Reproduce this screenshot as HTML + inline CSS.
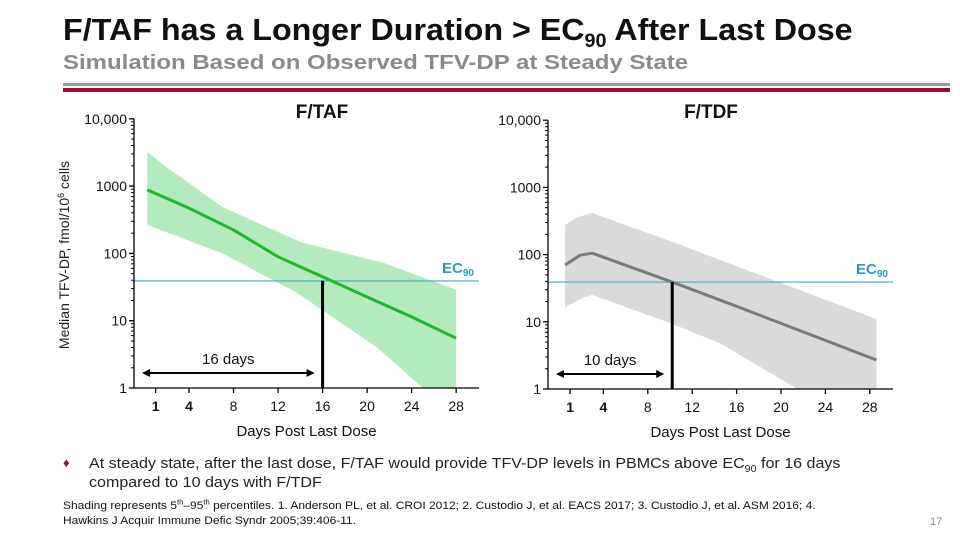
<!DOCTYPE html>
<html><head><meta charset="utf-8">
<style>
body{margin:0;width:960px;height:540px;overflow:hidden;background:#fff;font-family:"Liberation Sans",Arial,sans-serif;position:relative}
.t{position:absolute;white-space:nowrap;transform-origin:0 0}
sub,sup{line-height:0}
</style></head><body>
<div class="t" style="left:63px;top:12px;font-size:31px;font-weight:bold;color:#111;transform:scaleX(1.04)">F/TAF has a Longer Duration &gt; EC<sub style="font-size:19px">90</sub> After Last Dose</div>
<div class="t" style="left:63px;top:52px;font-size:20px;font-weight:bold;color:#8a8a8a;transform:scaleX(1.2)">Simulation Based on Observed TFV-DP at Steady State</div>
<div style="position:absolute;left:63px;top:83px;width:887px;height:3px;background:#9a9a9a"></div>
<div style="position:absolute;left:63px;top:88px;width:887px;height:4px;background:#9b0d2b"></div>
<svg id="chart" width="960" height="540" style="position:absolute;left:0;top:0" font-family="Liberation Sans, Arial, sans-serif"></svg>
<div class="t" style="left:63px;top:455px;font-size:13px;color:#9b0d2b">♦</div>
<div class="t" style="left:89px;top:454px;font-size:15px;color:#222;line-height:19px;transform:scaleX(1.07)">At steady state, after the last dose, F/TAF would provide TFV-DP levels in PBMCs above EC<sub style="font-size:10px">90</sub> for 16 days<br>compared to 10 days with F/TDF</div>
<div class="t" style="left:63px;top:499px;font-size:11px;color:#111;line-height:15px;transform:scaleX(1.09)">Shading represents 5<sup style="font-size:7px">th</sup>–95<sup style="font-size:7px">th</sup> percentiles. 1. Anderson PL, et al. CROI 2012; 2. Custodio J, et al. EACS 2017; 3. Custodio J, et al. ASM 2016; 4.<br>Hawkins J Acquir Immune Defic Syndr 2005;39:406-11.</div>
<div class="t" style="left:930px;top:516px;font-size:11px;color:#888">17</div>
<script>
const xTicks=[1,4,8,12,16,20,24,28];
const yTicks=[1,10,100,1000,10000];
const yTickLabels=["1","10","100","1000","10,000"];
const ec90=39;
const tafDays=[0.25,4,8,12,14,16,20,24,28];
const tafMedian=[880,470,223,89,63,45,22.5,11.4,5.5];
const tafUpperDays=[0.25,2,7,14,21.5,28];
const tafUpper=[3200,1900,490,148,72,29];
const tafLowerDays=[0.25,7,13.7,20.9,25,28];
const tafLower=[265,100,26,4,1,0.5];
const tafCross=16;
const tdfDays=[0.55,1.9,3,10.2,16,28.6];
const tdfMedian=[70,98,105,39,17,2.7];
const tdfUpperDays=[0.55,1.6,3,10.2,28.6];
const tdfUpper=[275,360,415,155,11];
const tdfLowerDays=[0.55,2.2,3,10,14.5,21.5,28.6];
const tdfLower=[16.6,23,25,9.6,4.8,1,0.3];
const tdfCross=10.2;

const svg=document.getElementById('chart');
const NS='http://www.w3.org/2000/svg';
function mk(tag,attrs,parent){const e=document.createElementNS(NS,tag);for(const k in attrs)e.setAttribute(k,attrs[k]);(parent||svg).appendChild(e);return e;}

function panel(o){
  const g=mk('g',{});
  
  
  const X=d=>o.x0+d*o.dx;
  const Y=v=>o.y1-Math.log10(Math.max(v,1e-3))*o.dec;
  const clip='clip-'+o.name;
  const cp=mk('clipPath',{id:clip},g);
  mk('rect',{x:o.ax,y:o.y1-4*o.dec,width:o.axEnd-o.ax,height:4*o.dec},cp);
  let pts=o.upD.map((d,i)=>X(d)+','+Y(o.up[i]));
  for(let i=o.loD.length-1;i>=0;i--)pts.push(X(o.loD[i])+','+Y(o.lo[i]));
  const band=mk('polygon',{points:pts.join(' '),fill:o.band,'clip-path':'url(#'+clip+')'},g);
  
  
  const ec=mk('line',{x1:o.ax,x2:o.axEnd,y1:Y(ec90),y2:Y(ec90),stroke:'#4aa8c8','stroke-width':1.2},g);
  
  
  const et=mk('text',{x:o.axEnd-5,y:Y(ec90)-8,'text-anchor':'end','font-size':15,'font-weight':'bold',fill:'#2a9cc0'},g);
  
  
  et.innerHTML='EC<tspan font-size="10" dy="3">90</tspan>';
  const md=mk('polyline',{points:o.mD.map((d,i)=>X(d)+','+Y(o.m[i])).join(' '),fill:'none',stroke:o.line,'stroke-width':3,'stroke-linejoin':'round'},g);
  
  
  const vl=mk('line',{x1:X(o.cross),x2:X(o.cross),y1:Y(ec90),y2:o.y1,stroke:'#000','stroke-width':3},g);
  
  
  const ay=o.y1-15, ax1=o.ax+8, ax2=X(o.cross)-8;
  const ar=mk('g',{},g);
  
  
  mk('line',{x1:ax1+4,x2:ax2-4,y1:ay,y2:ay,stroke:'#000','stroke-width':2},ar);
  mk('polygon',{points:`${ax1},${ay} ${ax1+8},${ay-4} ${ax1+8},${ay+4}`,fill:'#000'},ar);
  mk('polygon',{points:`${ax2},${ay} ${ax2-8},${ay-4} ${ax2-8},${ay+4}`,fill:'#000'},ar);
  const dt=mk('text',{x:(ax1+ax2)/2,y:ay-9,'text-anchor':'middle','font-size':15,fill:'#111'},g);
  
  
  dt.textContent=o.durLabel;
  const axes=mk('g',{stroke:'#000','stroke-width':1.3},g);
  
  
  mk('line',{x1:o.ax,x2:o.ax,y1:o.y1-4*o.dec,y2:o.y1},axes);
  mk('line',{x1:o.ax,x2:o.axEnd,y1:o.y1,y2:o.y1},axes);
  yTicks.forEach((v,i)=>{
    mk('line',{x1:o.ax-5,x2:o.ax,y1:Y(v),y2:Y(v)},axes);
    if(i<yTicks.length-1)for(let k=2;k<10;k++)mk('line',{x1:o.ax-3,x2:o.ax,y1:Y(v*k),y2:Y(v*k),'stroke-width':1},axes);
    const t=mk('text',{x:o.ax-7,y:Y(v)+5,'text-anchor':'end','font-size':14,fill:'#111',stroke:'none'},g);
    
    
    t.textContent=yTickLabels[i];
  });
  xTicks.forEach(d=>{
    mk('line',{x1:X(d),x2:X(d),y1:o.y1,y2:o.y1+5},axes);
    const t=mk('text',{x:X(d),y:o.y1+23,'text-anchor':'middle','font-size':14,fill:'#111','font-weight':(d<=4?'bold':'normal')},g);
    
    
    t.textContent=d;
  });
  const xt=mk('text',{x:(o.ax+o.axEnd)/2,y:o.y1+48,'text-anchor':'middle','font-size':15,fill:'#111'},g);
  
  
  xt.textContent='Days Post Last Dose';
  const pt=mk('text',{x:o.titleX,y:118,'text-anchor':'middle','font-size':19,'font-weight':'bold',fill:'#111'},g);
  
  
  pt.textContent=o.title;
}
panel({name:'taf-panel',title:'F/TAF',titleX:322,ax:134,axEnd:479,x0:144.5,dx:11.13,y1:388,dec:67.3,
  upD:tafUpperDays,up:tafUpper,loD:tafLowerDays,lo:tafLower,mD:tafDays,m:tafMedian,cross:tafCross,
  band:'#b3eabe',line:'#22b52e',durLabel:'16 days'});
panel({name:'tdf-panel',title:'F/TDF',titleX:711,ax:548,axEnd:893,x0:559,dx:11.1,y1:389,dec:67.2,
  upD:tdfUpperDays,up:tdfUpper,loD:tdfLowerDays,lo:tdfLower,mD:tdfDays,m:tdfMedian,cross:tdfCross,
  band:'#dadada',line:'#7a7a7a',durLabel:'10 days'});
const yl=mk('text',{x:0,y:0,transform:'translate(69,255) rotate(-90)','text-anchor':'middle','font-size':14,fill:'#222'});


yl.innerHTML='Median TFV-DP, fmol/10<tspan font-size="9" dy="-5">6</tspan><tspan dy="5"> cells</tspan>';
</script>
</body></html>
